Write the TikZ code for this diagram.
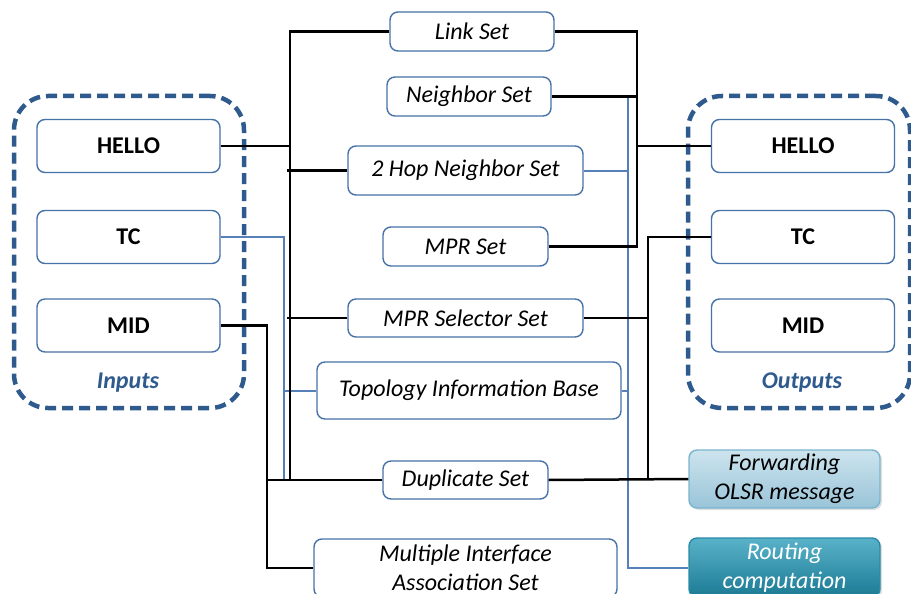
\documentclass[tikz,border=0pt]{standalone}
\usepackage{fontspec}
\setmainfont{Carlito}
\usetikzlibrary{shadows}
\definecolor{boxline}{HTML}{4672A8}
\definecolor{frameblue}{HTML}{2E5A8E}
\definecolor{wireblue}{HTML}{5580B8}
\definecolor{fwdtop}{HTML}{CDE4EE}
\definecolor{fwdbot}{HTML}{99C4D8}
\definecolor{fwdline}{HTML}{7AB4CF}
\definecolor{routetop}{HTML}{58B2C9}
\definecolor{routebot}{HTML}{1C7A94}
\definecolor{routeline}{HTML}{2A8AA6}
\tikzset{
  every node/.style={font=\fontsize{24}{29}\selectfont},
  setbox/.style={draw=boxline, line width=1.4pt, rounded corners=8pt, fill=white,
    inner sep=0pt, align=center, font=\fontsize{24}{29}\selectfont\itshape},
  msgbox/.style={draw=boxline, line width=1.4pt, rounded corners=8pt, fill=white,
    inner sep=0pt, minimum width=183pt, minimum height=53pt,
    font=\fontsize{24}{29}\selectfont\bfseries},
  groupbox/.style={draw=frameblue, line width=4.5pt, rounded corners=34pt,
    dash pattern=on 11pt off 6pt, inner sep=0pt},
  grouplabel/.style={text=frameblue, font=\fontsize{24}{29}\selectfont\bfseries\itshape},
  wire/.style={draw=black, line width=2.5pt},
  bluewire/.style={draw=wireblue, line width=2pt},
}
\begin{document}
\begin{tikzpicture}[x=1pt, y=-1pt]
\useasboundingbox (0,0) rectangle (911,594);

% input and output groups
\node[groupbox, minimum width=230pt, minimum height=312pt] (inputs) at (129,252) {};
\node[groupbox, minimum width=222pt, minimum height=312pt] (outputs) at (799,252) {};
\node[grouplabel] (inlbl) at (128,383) {Inputs};
\node[grouplabel] (outlbl) at (802,383) {Outputs};

% message boxes
\node[msgbox] (inHello) at (128.5,146) {HELLO};
\node[msgbox] (inTc)    at (128.5,237) {TC};
\node[msgbox] (inMid)   at (128.5,325.5) {MID};
\node[msgbox] (outHello) at (803,146) {HELLO};
\node[msgbox] (outTc)    at (803,237) {TC};
\node[msgbox] (outMid)   at (803,325.5) {MID};

% repositories
\node[setbox, minimum width=164pt, minimum height=39pt] (link)   at (472,31.5) {Link Set};
\node[setbox, minimum width=164pt, minimum height=39pt] (neigh)  at (469,96.5) {Neighbor Set};
\node[setbox, minimum width=235pt, minimum height=49pt] (hop2)   at (465.5,170.5) {2 Hop Neighbor Set};
\node[setbox, minimum width=165pt, minimum height=39pt] (mpr)    at (465.5,246.5) {MPR Set};
\node[setbox, minimum width=235pt, minimum height=38pt] (mprsel) at (465.5,318) {MPR Selector Set};
\node[setbox, minimum width=304pt, minimum height=57pt] (topo)   at (469,390.5) {Topology Information Base};
\node[setbox, minimum width=165pt, minimum height=38pt] (dup)    at (465.5,480) {Duplicate Set};
\node[setbox, minimum width=303pt, minimum height=58pt] (mia)    at (465.5,568) {Multiple Interface\\Association Set};

% processing outcomes
\node[setbox, draw=fwdline, top color=fwdtop, bottom color=fwdbot,
  minimum width=191pt, minimum height=58pt,
  drop shadow={opacity=0.25, shadow xshift=2pt, shadow yshift=-2pt}] (fwd) at (784.5,479) {Forwarding\\OLSR message};
\node[setbox, draw=routeline, top color=routetop, bottom color=routebot, text=white,
  minimum width=191pt, minimum height=59pt,
  drop shadow={opacity=0.25, shadow xshift=2pt, shadow yshift=-2pt}] (route) at (784.5,567.5) {Routing\\computation};

% bus junctions
\coordinate (lbus)  at (290,480);
\coordinate (tcbus) at (284,480);
\coordinate (midbus) at (267,480);
\coordinate (rbus)  at (637,246.5);
\coordinate (rblue) at (628,97);
\coordinate (rbus2) at (648,479);

% blue connectors
\draw[bluewire] (inTc.east) -| (tcbus);
\draw[bluewire] (topo.west) -- (topo.west -| tcbus);
\draw[bluewire] (rblue) |- (route.west);
\draw[bluewire] (hop2.east) -- (hop2.east -| rblue);
\draw[bluewire] (topo.east) -- (topo.east -| rblue);

% black connectors, left side
\draw[wire] (link.west) -| (lbus);
\draw[wire] (inHello.east) -- (inHello.east -| lbus);
\draw[wire, shorten >=-3pt] (hop2.west) -- (hop2.west -| lbus);
\draw[wire, shorten >=-3pt] (mprsel.west) -- (mprsel.west -| lbus);
\draw[wire] (inMid.east) -| (midbus) |- (mia.west);
\draw[wire] (dup.west) -- (midbus);

% black connectors, right side
\draw[wire] (link.east) -| (rbus) -- (mpr.east);
\draw[wire] (neigh.east) -- (neigh.east -| rbus);
\draw[wire] (outHello.west) -- (outHello.west -| rbus);
\draw[wire] (outTc.west) -| (rbus2);
\draw[wire] (mprsel.east) -- (mprsel.east -| rbus2);
\draw[wire] (dup.east) -- (fwd.west);
\end{tikzpicture}
\end{document}
